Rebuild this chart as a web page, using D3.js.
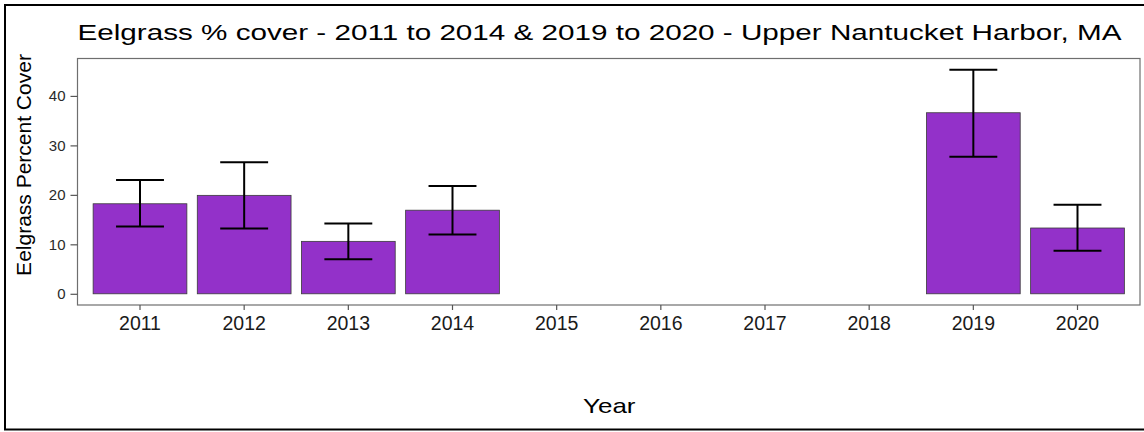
<!DOCTYPE html>
<html>
<head>
<meta charset="utf-8">
<script src="https://cdn.jsdelivr.net/npm/d3@7"></script>
<style>
  html, body { margin: 0; padding: 0; background: #fff; }
  svg { display: block; }
  text { font-family: "Liberation Sans", Arial, Helvetica, sans-serif; }
</style>
</head>
<body>
<svg id="chart" width="1144" height="432"></svg>
<script>
const years = ["2011","2012","2013","2014","2015","2016","2017","2018","2019","2020"];
const barYears = ["2011","2012","2013","2014","2019","2020"];
const meanCover = [18.2, 19.9, 10.6, 16.9, 36.6, 13.3];
const lowerErr = [13.6, 13.2, 7.0, 12.0, 27.7, 8.7];
const upperErr = [23.0, 26.6, 14.2, 21.8, 45.3, 18.0];
const yTicks = [0, 10, 20, 30, 40];

const titleText = "Eelgrass % cover - 2011 to 2014 & 2019 to 2020 - Upper Nantucket Harbor, MA";
const xTitle = "Year";
const yTitle = "Eelgrass Percent Cover";

const data = barYears.map((y, i) => ({ year: y, mean: meanCover[i], lo: lowerErr[i], hi: upperErr[i] }));

const svg = d3.select("#chart");
const W = 1144, H = 432;
const panel = { left: 77.5, right: 1140, top: 58.5, bottom: 305 };

svg.append("rect").attr("x", 0).attr("y", 0).attr("width", W).attr("height", H).attr("fill", "#fff");

// outer frame (right edge cut off in the reference)
svg.append("rect")
  .attr("x", 5).attr("y", 5).attr("width", 1146).attr("height", 424.5)
  .attr("fill", "none").attr("stroke", "#000").attr("stroke-width", 2);

const x = d3.scaleBand().domain(years)
  .range([panel.left, panel.right])
  .paddingInner(0.1).paddingOuter(0.15);

const yMax = d3.max(upperErr);
const ext = yMax * 0.05;
const y = d3.scaleLinear().domain([-ext, yMax + ext]).range([panel.bottom, panel.top]);

const g = svg.append("g");

// bars
g.selectAll("rect.bar").data(data).enter().append("rect")
  .attr("class", "bar")
  .attr("x", d => x(d.year))
  .attr("width", x.bandwidth())
  .attr("y", d => y(d.mean))
  .attr("height", d => y(0) - y(d.mean))
  .attr("fill", "#9331C9")
  .attr("stroke", "#3a3a3a")
  .attr("stroke-width", 0.8);

// error bars
const cap = x.step() * 0.23;
const eb = g.selectAll("g.err").data(data).enter().append("g").attr("class", "err")
  .attr("stroke", "#000").attr("stroke-width", 2);
eb.append("line")
  .attr("x1", d => x(d.year) + x.bandwidth() / 2).attr("x2", d => x(d.year) + x.bandwidth() / 2)
  .attr("y1", d => y(d.lo)).attr("y2", d => y(d.hi));
eb.append("line")
  .attr("x1", d => x(d.year) + x.bandwidth() / 2 - cap).attr("x2", d => x(d.year) + x.bandwidth() / 2 + cap)
  .attr("y1", d => y(d.hi)).attr("y2", d => y(d.hi));
eb.append("line")
  .attr("x1", d => x(d.year) + x.bandwidth() / 2 - cap).attr("x2", d => x(d.year) + x.bandwidth() / 2 + cap)
  .attr("y1", d => y(d.lo)).attr("y2", d => y(d.lo));

// panel border
svg.append("rect")
  .attr("x", panel.left).attr("y", panel.top)
  .attr("width", panel.right - panel.left).attr("height", panel.bottom - panel.top)
  .attr("fill", "none").attr("stroke", "#6e6e6e").attr("stroke-width", 1.2);

// y axis
const yAxis = svg.append("g").attr("transform", `translate(${panel.left},0)`)
  .call(d3.axisLeft(y).tickValues(yTicks).tickSize(7).tickPadding(5));
yAxis.select(".domain").remove();
yAxis.selectAll(".tick line").attr("stroke", "#555").attr("stroke-width", 1.2);
yAxis.selectAll(".tick text").attr("fill", "#2a2a2a").style("font-size", "15px")
  .style("font-family", "'Liberation Sans', Arial, sans-serif");

// x axis
const xAxis = svg.append("g").attr("transform", `translate(0,${panel.bottom})`)
  .call(d3.axisBottom(x).tickSize(5).tickPadding(6));
xAxis.select(".domain").remove();
xAxis.selectAll(".tick line").attr("stroke", "#555").attr("stroke-width", 1.2);
xAxis.selectAll(".tick text").attr("fill", "#1a1a1a").style("font-size", "19.5px")
  .style("font-family", "'Liberation Sans', Arial, sans-serif");

// titles
svg.append("text").attr("x", panel.left).attr("y", 39.5)
  .attr("fill", "#000").style("font-size", "21.5px")
  .attr("textLength", 1044).attr("lengthAdjust", "spacingAndGlyphs")
  .text(titleText);

svg.append("text").attr("x", 583).attr("y", 412.5)
  .attr("fill", "#000").style("font-size", "21px")
  .attr("textLength", 52.5).attr("lengthAdjust", "spacingAndGlyphs")
  .text(xTitle);

svg.append("text")
  .attr("transform", `translate(30.5,165) rotate(-90)`)
  .attr("text-anchor", "middle").attr("fill", "#000").style("font-size", "21px").text(yTitle);
</script>
</body>
</html>
